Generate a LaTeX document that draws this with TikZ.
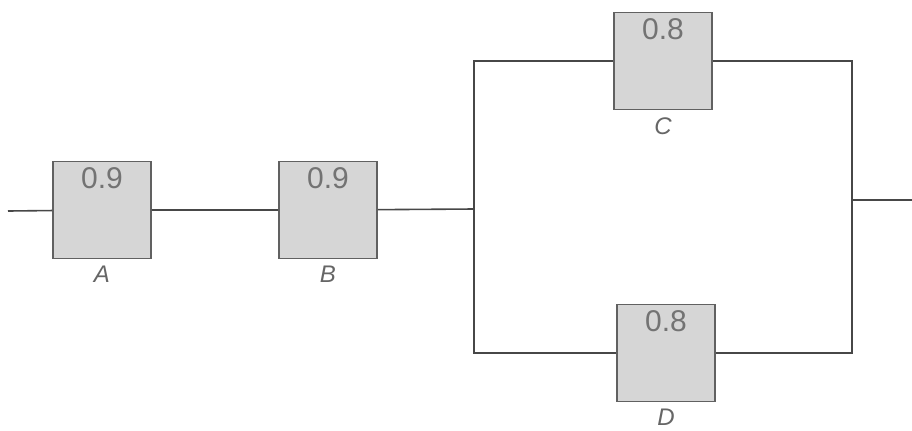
\documentclass[tikz,border=0pt]{standalone}
\usepackage{fontspec}
\setmainfont{Liberation Sans}
\usetikzlibrary{positioning}

\begin{document}
\begin{tikzpicture}[x=0.5pt,y=-0.5pt,
  unit/.style={draw=black!62, fill=black!16, line width=0.9pt,
    minimum width=49pt, minimum height=48.5pt, inner sep=0pt},
  prob/.style={anchor=north, text=black!55, font=\fontsize{15}{15}\selectfont},
  tag/.style={text=black!60, font=\fontsize{12}{12}\selectfont\itshape, label distance=0pt},
  wire/.style={draw=black!72, line width=0.8pt}]
\useasboundingbox (0,0) rectangle (912,430);

\foreach \name/\x/\y/\p in {A/102/210/0.9, B/328/210/0.9, C/663/61/0.8, D/666/353/0.8}
{
	\node[unit, label={[prob]north:\p}, label={[tag]below:\name}] (\name) at (\x,\y) {};
}

\coordinate (in) at (8,211);
\coordinate (split) at (474,209);
\coordinate (join) at (852,200);
\coordinate (out) at (912,200);

\draw[wire] (in) -- (A) -- (B) -- (split);
\draw[wire] (C.west) -| (split) |- (D.west);
\draw[wire] (C.east) -| (join) |- (D.east);
\draw[wire] (join) -- (out);
\end{tikzpicture}
\end{document}
